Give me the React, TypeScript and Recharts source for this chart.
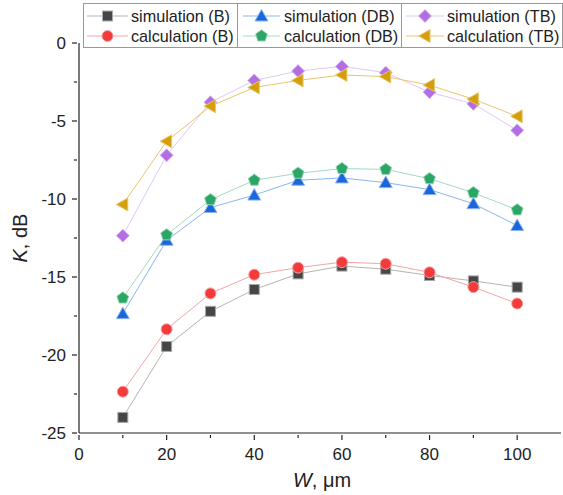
import React from "react";
import { LineChart, Line, XAxis, YAxis } from "recharts";

const widths = [10, 20, 30, 40, 50, 60, 70, 80, 90, 100];
const simB = [-24.0, -19.45, -17.2, -15.8, -14.8, -14.3, -14.5, -14.9, -15.25, -15.65];
const calcB = [-22.35, -18.35, -16.05, -14.85, -14.4, -14.05, -14.15, -14.7, -15.65, -16.7];
const simDB = [-17.35, -12.65, -10.55, -9.75, -8.8, -8.65, -8.95, -9.4, -10.3, -11.7];
const calcDB = [-16.35, -12.3, -10.05, -8.8, -8.35, -8.05, -8.1, -8.7, -9.6, -10.7];
const simTB = [-12.35, -7.2, -3.8, -2.4, -1.8, -1.5, -1.9, -3.15, -3.9, -5.6];
const calcTB = [-10.35, -6.3, -4.05, -2.85, -2.4, -2.05, -2.15, -2.7, -3.6, -4.7];

const xTicks = [0, 10, 20, 30, 40, 50, 60, 70, 80, 90, 100];
const yTicks = [-25, -22.5, -20, -17.5, -15, -12.5, -10, -7.5, -5, -2.5, 0];

const data = widths.map((w, i) => ({
  w,
  simB: simB[i],
  calcB: calcB[i],
  simDB: simDB[i],
  calcDB: calcDB[i],
  simTB: simTB[i],
  calcTB: calcTB[i],
}));

type Shape = "square" | "circle" | "triangle" | "pentagon" | "diamond" | "left";

const series: { key: string; name: string; fill: string; edge: string; line: string; shape: Shape }[] = [
  { key: "simB", name: "simulation (B)", fill: "#464646", edge: "#a8a8a8", line: "#b4b4b4", shape: "square" },
  { key: "calcB", name: "calculation (B)", fill: "#f43a3a", edge: "#f8a0a0", line: "#f6a4a4", shape: "circle" },
  { key: "simDB", name: "simulation (DB)", fill: "#1a66dc", edge: "#8cb4ee", line: "#8ab6f0", shape: "triangle" },
  { key: "calcDB", name: "calculation (DB)", fill: "#2aa766", edge: "#98d4b4", line: "#a2dbbe", shape: "pentagon" },
  { key: "simTB", name: "simulation (TB)", fill: "#b26ee2", edge: "#d8b8f0", line: "#e0c8f4", shape: "diamond" },
  { key: "calcTB", name: "calculation (TB)", fill: "#d49e0c", edge: "#e8c870", line: "#e8c66c", shape: "left" },
];

const FONT = "'Liberation Sans', Arial, sans-serif";

function Marker({ cx, cy, shape, fill, edge }: { cx: number; cy: number; shape: Shape; fill: string; edge: string }) {
  const r = 5.5;
  switch (shape) {
    case "square":
      return <rect x={cx - 5} y={cy - 5} width={10} height={10} fill={fill} stroke={edge} strokeWidth={1} />;
    case "circle":
      return <circle cx={cx} cy={cy} r={r} fill={fill} stroke={edge} strokeWidth={1} />;
    case "triangle":
      return (
        <polygon
          points={`${cx},${cy - 6.5} ${cx + 6.5},${cy + 5} ${cx - 6.5},${cy + 5}`}
          fill={fill}
          stroke={edge}
          strokeWidth={1}
        />
      );
    case "pentagon": {
      const pts: string[] = [];
      for (let k = 0; k < 5; k++) {
        const a = -Math.PI / 2 + (k * 2 * Math.PI) / 5;
        pts.push(`${cx + 6.2 * Math.cos(a)},${cy + 6.2 * Math.sin(a)}`);
      }
      return <polygon points={pts.join(" ")} fill={fill} stroke={edge} strokeWidth={1} />;
    }
    case "diamond":
      return (
        <polygon
          points={`${cx},${cy - 6.5} ${cx + 6.5},${cy} ${cx},${cy + 6.5} ${cx - 6.5},${cy}`}
          fill={fill}
          stroke={edge}
          strokeWidth={1}
        />
      );
    case "left":
      return (
        <polygon
          points={`${cx - 6.5},${cy} ${cx + 5},${cy - 6.5} ${cx + 5},${cy + 6.5}`}
          fill={fill}
          stroke={edge}
          strokeWidth={1}
        />
      );
  }
  return null;
}

function XTick(props: any) {
  const { x, y, payload } = props;
  const v = payload.value as number;
  const major = v % 20 === 0;
  return (
    <g>
      <line x1={x} x2={x} y1={y} y2={y + (major ? 5 : 3)} stroke="#222" strokeWidth={1.2} />
      {major && (
        <text x={x} y={y + 25} textAnchor="middle" fontSize={17} fill="#222" fontFamily={FONT}>
          {v}
        </text>
      )}
    </g>
  );
}

function YTick(props: any) {
  const { x, y, payload } = props;
  const v = payload.value as number;
  const major = v % 5 === 0;
  return (
    <g>
      <line x1={x} x2={x - (major ? 5 : 3)} y1={y} y2={y} stroke="#222" strokeWidth={1.2} />
      {major && (
        <text x={x - 11} y={y + 6} textAnchor="end" fontSize={17} fill="#222" fontFamily={FONT}>
          {v}
        </text>
      )}
    </g>
  );
}

function LegendBox() {
  const cols = [
    { x0: 83, x1: 237, lineX0: 87, lineX1: 128, textX: 131 },
    { x0: 237, x1: 401, lineX0: 243, lineX1: 280, textX: 284 },
    { x0: 401, x1: 562, lineX0: 406, lineX1: 444, textX: 447 },
  ];
  return (
    <svg width={563} height={50} style={{ position: "absolute", left: 0, top: 0 }}>
      {cols.map((c, ci) => (
        <g key={ci}>
          <rect x={c.x0 + 0.5} y={3.5} width={c.x1 - c.x0} height={44} fill="#fff" stroke="#999" strokeWidth={1} />
          {[0, 1].map((ri) => {
            const s = series[ci * 2 + ri];
            const cy = ri === 0 ? 16 : 36;
            const mx = (c.lineX0 + c.lineX1) / 2;
            return (
              <g key={ri}>
                <line x1={c.lineX0} x2={c.lineX1} y1={cy} y2={cy} stroke={s.line} strokeWidth={1} />
                <Marker cx={mx} cy={cy} shape={s.shape} fill={s.fill} edge={s.edge} />
                <text x={c.textX} y={cy + 6} fontSize={16.2} fill="#222" fontFamily={FONT}>
                  {s.name}
                </text>
              </g>
            );
          })}
        </g>
      ))}
    </svg>
  );
}

export default function App() {
  return (
    <div style={{ position: "absolute", left: 0, top: 0, width: 563, height: 495, background: "#fff" }}>
      <LineChart width={563} height={495} data={data} margin={{ top: 43, right: 2, bottom: 0, left: 0 }}>
        <XAxis
          dataKey="w"
          type="number"
          domain={[0, 110]}
          ticks={xTicks}
          tick={<XTick />}
          tickLine={false}
          tickSize={0}
          height={62}
          axisLine={{ stroke: "#222", strokeWidth: 1.2 }}
          interval={0}
        />
        <YAxis
          type="number"
          domain={[-25, 0]}
          ticks={yTicks}
          tick={<YTick />}
          tickLine={false}
          tickSize={0}
          width={79}
          axisLine={{ stroke: "#222", strokeWidth: 1.2 }}
          interval={0}
        />
        {series.map((s) => (
          <Line
            key={s.key}
            dataKey={s.key}
            name={s.name}
            stroke={s.line}
            strokeWidth={1}
            isAnimationActive={false}
            dot={(p: any) => (
              <g key={`${s.key}-${p.index}`}>
                <Marker cx={p.cx} cy={p.cy} shape={s.shape} fill={s.fill} edge={s.edge} />
              </g>
            )}
            activeDot={false}
          />
        ))}
        <text x={27} y={238} transform="rotate(-90 27 238)" textAnchor="middle" fontSize={20} fill="#222" fontFamily={FONT}>
          <tspan fontStyle="italic">K</tspan>, dB
        </text>
        <text x={322} y={487} textAnchor="middle" fontSize={20} fill="#222" fontFamily={FONT}>
          <tspan fontStyle="italic">W</tspan>, μm
        </text>
      </LineChart>
      <LegendBox />
    </div>
  );
}
